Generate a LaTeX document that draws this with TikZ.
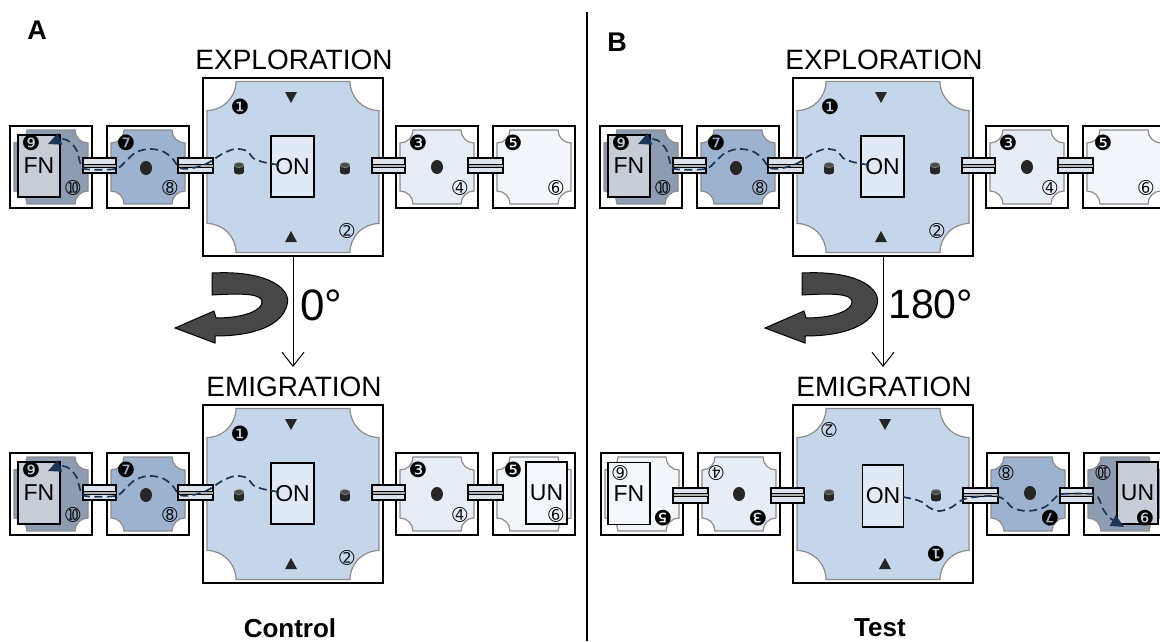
\documentclass[tikz,border=0pt]{standalone}
\usepackage{fontspec}
\setmainfont{Liberation Sans}
\newfontfamily\dv{DejaVu Sans}
\usetikzlibrary{arrows.meta}
\definecolor{cdark}{HTML}{8E9CB1}
\definecolor{cblue}{HTML}{9DB2CE}
\definecolor{ccent}{HTML}{C6D6EA}
\definecolor{cpale}{HTML}{E7EDF6}
\definecolor{cwhite}{HTML}{F2F6FB}
\definecolor{nestgray}{HTML}{C7CDD7}
\definecolor{nestlight}{HTML}{F3F6FA}
\definecolor{onfill}{HTML}{E1E9F4}
\definecolor{tubefill}{HTML}{DCE3EC}
\definecolor{traj}{HTML}{1B3557}
\definecolor{turn}{HTML}{474747}
\tikzset{
  wall/.style={draw=black, line width=1.4pt, fill=white},
  floor/.style={draw=black!45, line width=1.2pt},
  tubebox/.style={draw=black, line width=1.3pt, fill=tubefill},
  tubemid/.style={draw=black, line width=0.7pt, fill=black!30},
  nest/.style={draw=black, line width=1.4pt, minimum width=42pt, minimum height=62pt, inner sep=0pt, font=\fontsize{23}{23}\selectfont},
  fnum/.style={font=\dv\fontsize{21}{21}\selectfont, inner sep=0pt},
  onum/.style={font=\dv\fontsize{18}{18}\selectfont, inner sep=0pt},
  darkmark/.style={fill=black!85},
  trajline/.style={draw=traj, line width=1.7pt, dash pattern=on 8pt off 4.5pt, -{Triangle[length=13pt,width=12pt]}},
  turnarrow/.style={fill=turn, draw=black, line width=1pt},
  phase/.style={font=\fontsize{28}{28}\selectfont, inner sep=0pt},
  angle/.style={font=\fontsize{44}{44}\selectfont, inner sep=0pt, anchor=base west},
  panel/.style={font=\bfseries\fontsize{27}{27}\selectfont, inner sep=0pt},
  cond/.style={font=\bfseries\fontsize{26}{26}\selectfont, inner sep=0pt},
  vline/.style={draw=black, line width=1pt, -{Straight Barb[length=14pt,width=22pt,line width=1pt]}}
}
% concave-cornered floor: style, cx, cy, half width, half height, corner radius
\newcommand\cutsq[6]{%
  \path[#1] ({#2-#4+#6},{#3-#5}) -- ({#2+#4-#6},{#3-#5})
    .. controls ({#2+#4-#6},{#3-#5+0.55*#6}) and ({#2+#4-0.55*#6},{#3-#5+#6}) .. ({#2+#4},{#3-#5+#6})
    -- ({#2+#4},{#3+#5-#6})
    .. controls ({#2+#4-0.55*#6},{#3+#5-#6}) and ({#2+#4-#6},{#3+#5-0.55*#6}) .. ({#2+#4-#6},{#3+#5})
    -- ({#2-#4+#6},{#3+#5})
    .. controls ({#2-#4+#6},{#3+#5-0.55*#6}) and ({#2-#4+0.55*#6},{#3+#5-#6}) .. ({#2-#4},{#3+#5-#6})
    -- ({#2-#4},{#3-#5+#6})
    .. controls ({#2-#4+0.55*#6},{#3-#5+#6}) and ({#2-#4+#6},{#3-#5+0.55*#6}) .. cycle;}
\newcommand\arenabody{%
  \foreach \x/\c in {-242/cdark,-145/cblue,144/cpale,241/cwhite}{%
    \path[wall] ({\x-41},-41) rectangle ({\x+41},41);
    \cutsq{floor,fill=\c}{\x}{0}{37}{37}{13}
  }%
  \path[wall] (-90,-89) rectangle (90,89);
  \cutsq{floor,fill=ccent}{0}{0}{86}{85.5}{29}
  \fill[darkmark] (-147,1) ellipse [x radius=6pt, y radius=7pt];
  \fill[darkmark] (144,0) ellipse [x radius=6pt, y radius=7pt];
  \fill[darkmark] (-8,-75) -- (4,-75) -- (-2,-64) -- cycle;
  \fill[darkmark] (-8,75) -- (4,75) -- (-2,64) -- cycle;
  \foreach \a/\b in {-210/-177,-115/-80,79/112,175/210}{%
    \path[tubebox] (\a,-9) rectangle (\b,6);
    \path[tubemid] (\a,-2.5) rectangle (\b,0.5);
  }%
}
\newcommand\arenalabels{%
  \node[fnum] at (-262,-24) {❾}; \node[onum] at (-220,21) {➉};
  \node[fnum] at (-167,-24) {❼}; \node[onum] at (-123,21) {➇};
  \node[fnum] at (-53,-60) {❶};  \node[onum] at (54,64) {➁};
  \node[fnum] at (125,-24) {❸};  \node[onum] at (167,21) {➃};
  \node[fnum] at (220,-24) {❺};  \node[onum] at (263,21) {➅};
}
\newcommand\cyl[2]{%
  \fill[black!85] ({#1-5},{#2-3}) rectangle ({#1+5},{#2+4});
  \fill[black!85] (#1,{#2+4}) ellipse [x radius=5pt, y radius=2.5pt];
  \filldraw[fill=black!70, draw=black!45, line width=0.6pt] (#1,{#2-3}) ellipse [x radius=5pt, y radius=2.5pt];}
\newcommand\trajleft{%
  \draw[trajline] plot[smooth, tension=0.55] coordinates {(-14,-2) (-30,-5) (-40,-9) (-46,-16) (-58,-18) (-71,-13) (-85,-4) (-100,1) (-113,1) (-121,-9) (-131,-16) (-145,-18) (-158,-14) (-168,-5) (-178,2) (-208,2) (-213,-5) (-216,-16) (-222,-24) (-230,-28) (-245,-23)};}
\newcommand\turn{%
  \path[turnarrow] (-81,106) .. controls (-23,103) and (-1,123) .. (-6,138)
    .. controls (-11,158) and (-38,169) .. (-78,169) -- (-78,176) -- (-118,161) -- (-79,144) -- (-77,151)
    .. controls (-48,151) and (-31,143) .. (-31,135)
    .. controls (-31,127) and (-48,126) .. (-81,128) -- cycle;}
\begin{document}
\begin{tikzpicture}[x=1pt,y=-1pt]
\useasboundingbox (0,0) rectangle (1160,641);
\clip (0,0) rectangle (1160,641);
\fill[white] (0,0) rectangle (1160,641);
% ---------- arenas: bodies ----------
\begin{scope}[shift={(293,167)}] \arenabody \end{scope}
\begin{scope}[shift={(293,494)}] \arenabody \end{scope}
\begin{scope}[shift={(883,167)}] \arenabody \end{scope}
\begin{scope}[shift={(883,494)}, rotate=180, transform shape] \arenabody \end{scope}
% ---------- nests and pillars ----------
\node[nest, fill=onfill, minimum width=43pt, minimum height=61pt] (onAt) at (292.5,166.5) {ON};
\node[nest, fill=nestgray] (fnAt) at (39,166) {FN};
\cyl{239}{168} \cyl{345}{168}
\node[nest, fill=onfill, minimum width=43pt, minimum height=61pt] (onAb) at (292.5,493.5) {ON};
\node[nest, fill=nestgray] (fnAb) at (39,493) {FN};
\node[nest, fill=nestlight, minimum width=41pt] (unAb) at (546.5,493) {UN};
\cyl{239}{495} \cyl{345}{495}
\node[nest, fill=onfill, minimum width=43pt, minimum height=61pt] (onBt) at (882.5,166.5) {ON};
\node[nest, fill=nestgray] (fnBt) at (629,166) {FN};
\cyl{829}{168} \cyl{935}{168}
\node[nest, fill=onfill, minimum width=41pt, minimum height=62pt] (onBb) at (883,496) {ON};
\node[nest, fill=nestlight] (fnBb) at (629,493.5) {FN};
\node[nest, fill=nestgray, minimum width=41pt] (unBb) at (1137.5,493) {UN};
\cyl{829}{495} \cyl{936}{495}
% ---------- chamber numbers ----------
\begin{scope}[shift={(293,167)}] \arenalabels \end{scope}
\begin{scope}[shift={(293,494)}] \arenalabels \end{scope}
\begin{scope}[shift={(883,167)}] \arenalabels \end{scope}
\begin{scope}[shift={(883,494)}, rotate=180, transform shape] \arenalabels \end{scope}
% ---------- trajectories ----------
\begin{scope}[shift={(293,167)}] \trajleft \end{scope}
\begin{scope}[shift={(293,494)}] \trajleft \end{scope}
\begin{scope}[shift={(883,167)}] \trajleft \end{scope}
\draw[trajline] plot[smooth, tension=0.55] coordinates {(903,497) (913,499) (922,502) (930,508) (940,511) (952,507) (962,500) (975,497) (995,496) (1005,500) (1013,508) (1028,511) (1045,507) (1055,498) (1062,494) (1093,494) (1099,499) (1103,509) (1110,518) (1124,527)};
% ---------- rotation arrows ----------
\begin{scope}[shift={(293,167)}] \turn \end{scope}
\begin{scope}[shift={(883,167)}] \turn \end{scope}
% ---------- texts ----------
\node[panel] (labA) at (37,30) {A};
\node[panel] (labB) at (617,42) {B};
\node[phase] (exA) at (294,60) {EXPLORATION};
\node[phase] (emA) at (294,387) {EMIGRATION};
\node[phase] (exB) at (884,60) {EXPLORATION};
\node[phase] (emB) at (884,387) {EMIGRATION};
\node[angle] (angA) at (300,320) {0°};
\node[angle, font=\fontsize{41}{41}\selectfont] (angB) at (888,318) {180°};
\node[cond] (ctl) at (290,628) {Control};
\node[cond] (tst) at (880,628) {Test};
\coordinate (vA1) at (293,256); \coordinate (vA2) at (293,367);
\coordinate (vB1) at (883,256); \coordinate (vB2) at (883,367);
\draw[vline] (vA1) -- (vA2);
\draw[vline] (vB1) -- (vB2);
\coordinate (dv1) at (587,12); \coordinate (dv2) at (587,641);
\draw[line width=1.3pt] (dv1) -- (dv2);
\end{tikzpicture}
\end{document}
